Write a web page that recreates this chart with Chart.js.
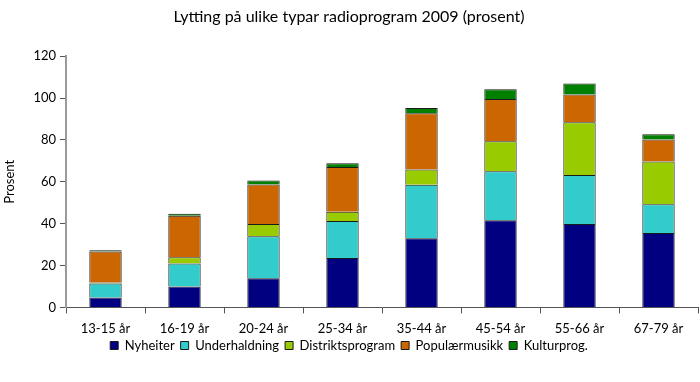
<!DOCTYPE html>
<html>
<head>
<meta charset="utf-8">
<script src="https://cdn.jsdelivr.net/npm/chart.js@4"></script>
<style>
  body { margin: 0; background: #fff; }
  #wrap { width: 700px; height: 382px; }
</style>
</head>
<body>
<div id="wrap"><canvas id="mycanvas"></canvas></div>
<script>
var ageGroups = ['13-15 år', '16-19 år', '20-24 år', '25-34 år', '35-44 år', '45-54 år', '55-66 år', '67-79 år']
var nyheiter = [4.7, 10.0, 13.9, 23.6, 33.0, 41.6, 39.9, 35.6]
var underhaldning = [6.7, 11.0, 20.1, 17.7, 25.6, 23.4, 23.3, 13.7]
var distrikt = [0.5, 2.9, 5.9, 4.4, 7.3, 14.4, 25.2, 20.4]
var popmusikk = [14.8, 19.9, 18.8, 21.4, 26.9, 20.1, 13.3, 10.5]
var kultur = [0.6, 0.9, 1.9, 1.8, 2.5, 4.7, 5.2, 2.5]

Chart.defaults.font.family = 'Lato, sans-serif'
Chart.defaults.color = '#000'

function makeSet(label, values, colour){
    return {
        label: label,
        data: values,
        backgroundColor: colour,
        borderColor: '#1a1a1a',
        borderWidth: 1,
        categoryPercentage: 1.0,
        barPercentage: 0.41
    }
}

// pull the legend up closer to the axis labels, like the original
var legendShift = {
    id: 'legendShift',
    afterLayout: function(chart){
        if(chart.legend){
            chart.legend.top -= 12
            chart.legend.bottom -= 12
        }
    }
}

var context = document.getElementById('mycanvas').getContext('2d')
new Chart(context, {
    type: 'bar',
    data: {
        labels: ageGroups,
        datasets: [
            makeSet('Nyheiter', nyheiter, '#000080'),
            makeSet('Underhaldning', underhaldning, '#33CCCC'),
            makeSet('Distriktsprogram', distrikt, '#99CC00'),
            makeSet('Populærmusikk', popmusikk, '#CC6600'),
            makeSet('Kulturprog.', kultur, '#008000')
        ]
    },
    plugins: [legendShift],
    options: {
        responsive: true,
        maintainAspectRatio: false,
        animation: false,
        layout: { padding: { left: 0, right: 2, top: 7, bottom: 8 } },
        plugins: {
            title: {
                display: true,
                text: 'Lytting på ulike typar radioprogram 2009 (prosent)',
                font: { size: 16, weight: 'normal' },
                color: '#000',
                padding: { top: 0, bottom: 30 }
            },
            legend: {
                position: 'bottom',
                labels: {
                    boxWidth: 8,
                    boxHeight: 8,
                    padding: 6,
                    font: { size: 13 }
                }
            },
            tooltip: { enabled: false }
        },
        scales: {
            x: {
                stacked: true,
                border: { color: '#555' },
                grid: { display: true, drawOnChartArea: false, tickLength: 6, color: '#555', offset: true },
                ticks: { font: { size: 13 }, padding: 8, maxRotation: 0 }
            },
            y: {
                stacked: true,
                min: 0,
                max: 120,
                border: { color: '#999', width: 2 },
                grid: { display: true, drawOnChartArea: false, tickLength: 6, color: '#555' },
                ticks: { stepSize: 20, font: { size: 13 }, padding: 4 },
                title: { display: true, text: 'Prosent', font: { size: 13 }, padding: 2 },
                afterFit: function(scale){ scale.width = 66 }
            }
        }
    }
})
</script>
</body>
</html>
